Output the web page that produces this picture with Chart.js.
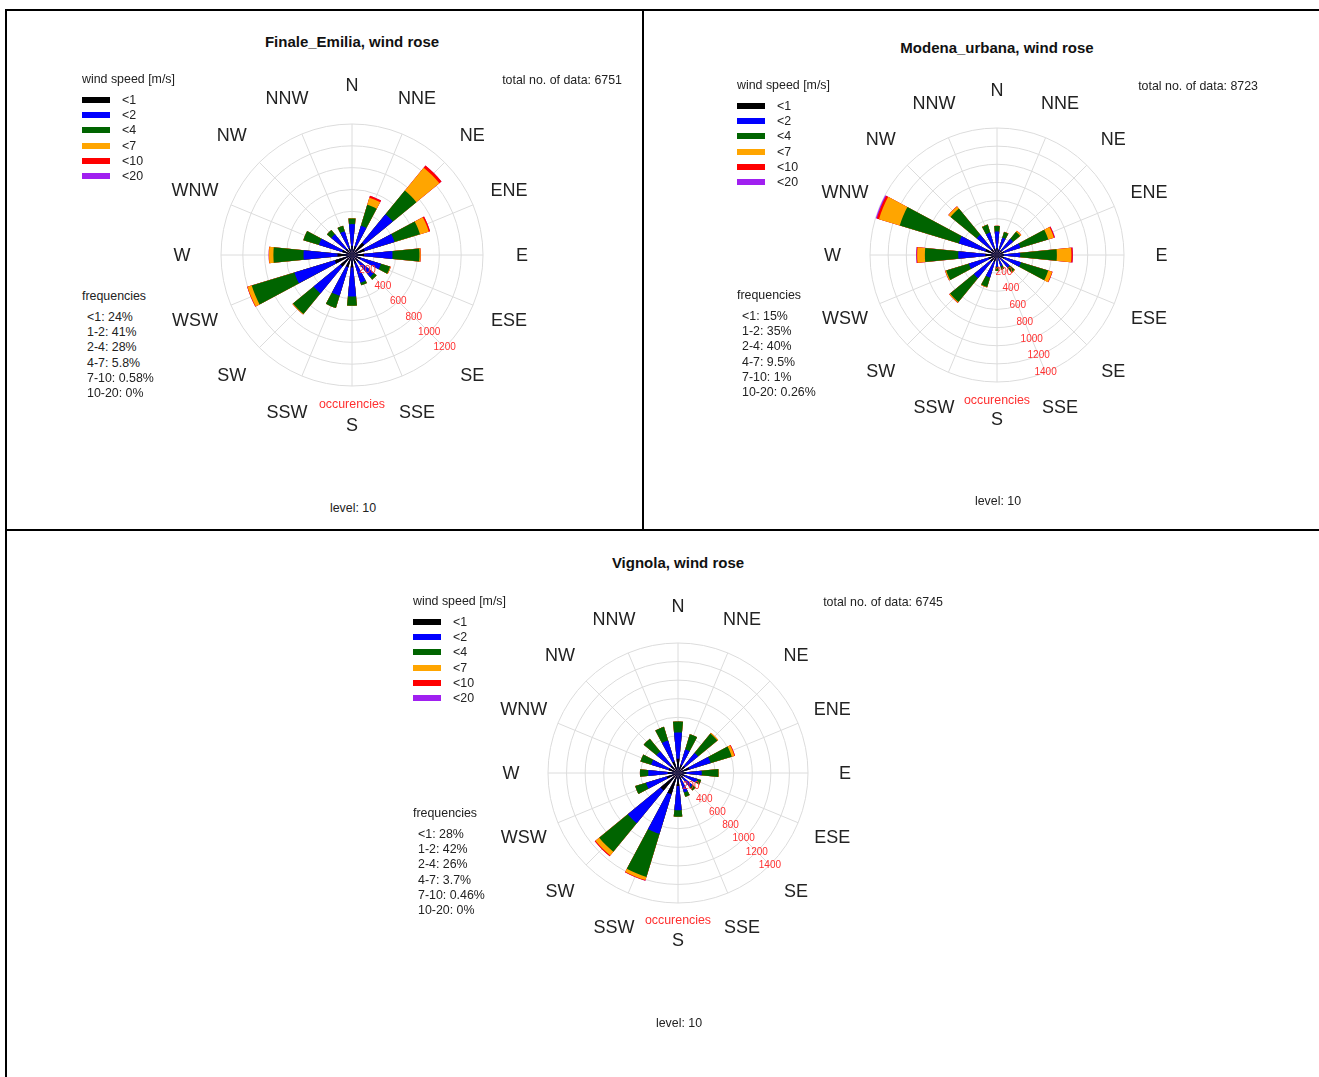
<!DOCTYPE html>
<html>
<head>
<meta charset="utf-8">
<title>Wind roses</title>
<script src="https://cdn.jsdelivr.net/npm/chart.js@4.4.1/dist/chart.umd.min.js"></script>
<style>
  body { margin: 0; background: #fff; font-family: "Liberation Sans", Arial, sans-serif; color: #222; }
  #page { position: relative; width: 1319px; height: 1077px; overflow: hidden; }
  .line { position: absolute; background: #000; }
  .txt { position: absolute; white-space: nowrap; font-size: 12.4px; transform: translate(0, -50%); }
  .mid { transform: translate(-50%, -50%); }
  .right { transform: translate(-100%, -50%); }
  .title { font-weight: bold; font-size: 15px; color: #111; }
  .occ { color: #ff3030; }
  .sw { position: absolute; width: 28px; height: 6px; transform: translate(0, -50%); }
  canvas { position: absolute; }
</style>
</head>
<body>
<div id="page">
  <div class="line" style="left:5px;top:9px;width:1314px;height:2px"></div>
  <div class="line" style="left:5px;top:9px;width:2px;height:1068px"></div>
  <div class="line" style="left:642px;top:9px;width:2px;height:522px"></div>
  <div class="line" style="left:5px;top:529px;width:1314px;height:2px"></div>
  <canvas id="finale"></canvas>
  <canvas id="modena"></canvas>
  <canvas id="vignola"></canvas>
</div>
<script>
const directions = ['N', 'NNE', 'NE', 'ENE', 'E', 'ESE', 'SE', 'SSE', 'S', 'SSW', 'SW', 'WSW', 'W', 'WNW', 'NW', 'NNW'];
const speedClasses = ['<1', '<2', '<4', '<7', '<10', '<20'];
const classColors = ['#000000', '#0000ff', '#006400', '#ffa500', '#ff0000', '#a020f0'];

// occurrences per direction (N clockwise) for each wind speed class
const finaleLt1 = [85, 84, 145, 122, 111, 83, 78, 80, 114, 117, 137, 165, 133, 95, 74, 68];
const finale1to2 = [198, 196, 338, 285, 260, 194, 182, 185, 266, 273, 318, 386, 311, 221, 171, 160];
const finale2to4 = [52, 200, 280, 244, 247, 88, 32, 25, 85, 117, 245, 409, 276, 150, 52, 53];
const finale4to7 = [2, 68, 272, 84, 11, 6, 0, 0, 0, 0, 6, 40, 40, 0, 0, 0];
const finale7to10 = [0, 18, 26, 13, 1, 0, 0, 0, 0, 0, 0, 4, 3, 0, 0, 0];
const finale10to20 = [0, 0, 0, 0, 0, 0, 0, 0, 0, 0, 0, 0, 0, 0, 0, 0];

const modenaLt1 = [77, 60, 69, 81, 77, 83, 54, 39, 39, 78, 99, 97, 128, 132, 87, 77];
const modena1to2 = [181, 140, 161, 189, 178, 193, 126, 91, 91, 182, 231, 227, 299, 308, 203, 181];
const modena2to4 = [62, 65, 100, 320, 405, 314, 70, 40, 45, 110, 340, 261, 368, 680, 372, 92];
const modena4to7 = [2, 4, 15, 65, 160, 45, 8, 0, 0, 5, 10, 11, 85, 240, 30, 2];
const modena7to10 = [0, 0, 2, 11, 15, 5, 0, 0, 0, 0, 3, 2, 7, 25, 3, 0];
const modena10to20 = [0, 0, 0, 3, 3, 0, 0, 0, 0, 0, 0, 0, 5, 12, 0, 0];

const vignolaLt1 = [153, 93, 98, 128, 90, 77, 70, 77, 140, 240, 245, 126, 112, 106, 105, 128];
const vignola1to2 = [283, 173, 182, 239, 166, 143, 130, 143, 260, 445, 455, 234, 208, 196, 195, 238];
const vignola2to4 = [118, 170, 270, 238, 180, 40, 45, 48, 72, 485, 398, 122, 90, 121, 178, 154];
const vignola4to7 = [0, 0, 10, 30, 2, 0, 0, 0, 0, 35, 52, 0, 0, 0, 0, 0];
const vignola7to10 = [0, 0, 0, 7, 0, 0, 0, 0, 0, 7, 10, 0, 0, 0, 0, 0];
const vignola10to20 = [0, 0, 0, 0, 0, 0, 0, 0, 0, 0, 0, 0, 0, 0, 0, 0];

const finaleFreq = ['<1: 24%', '1-2: 41%', '2-4: 28%', '4-7: 5.8%', '7-10: 0.58%', '10-20: 0%'];
const modenaFreq = ['<1: 15%', '1-2: 35%', '2-4: 40%', '4-7: 9.5%', '7-10: 1%', '10-20: 0.26%'];
const vignolaFreq = ['<1: 28%', '1-2: 42%', '2-4: 26%', '4-7: 3.7%', '7-10: 0.46%', '10-20: 0%'];

const page = document.getElementById('page');
const margin = 70;

// compass names centred on a circle outside the grid, red occurrence labels along one direction
const roseText = {
    id: 'roseText',
    afterDraw(chart, args, opts) {
        const r = chart.scales.r;
        const ctx = chart.ctx;
        ctx.save();
        ctx.textAlign = 'center';
        ctx.textBaseline = 'middle';
        ctx.fillStyle = '#222';
        ctx.font = '18px "Liberation Sans", Arial, sans-serif';
        directions.forEach((d, i) => {
            const p = r.getPointPosition(i, r.drawingArea + opts.labelGap);
            ctx.fillText(d, p.x, p.y + 1);
        });
        ctx.fillStyle = '#ff3030';
        ctx.font = '10px "Liberation Sans", Arial, sans-serif';
        r.ticks.forEach(t => {
            if (t.value === 0) return;
            const p = r.getPointPositionForValue(opts.tickIndex, t.value);
            ctx.fillText(String(t.value), p.x, p.y);
        });
        ctx.restore();
    }
};

function cumulate(bands) {
    let run = directions.map(() => 0);
    return bands.map(b => {
        run = run.map((v, i) => v + b[i]);
        return run;
    });
}

// every wedge is half a sector wide, N is split in two halves so the scale can start at north
function sectorData(values) {
    const d = [values[0]];
    for (let i = 1; i < values.length; i++) d.push(0, values[i]);
    d.push(0, values[0]);
    return d;
}

function drawRose(id, bands, max, tickIndex, labelGap, cx, cy, radius) {
    const canvas = document.getElementById(id);
    canvas.width = 2 * (radius + margin);
    canvas.height = 2 * (radius + margin);
    const cum = cumulate(bands);
    const chart = new Chart(canvas, {
        type: 'polarArea',
        data: {
            labels: directions,
            datasets: cum.map((vals, k) => ({
                label: speedClasses[k],
                data: sectorData(vals),
                backgroundColor: classColors[k],
                borderWidth: 0,
                angle: c => (c.index === 0 ? 5.625 : c.index === 32 ? 6.1 : 11.25)
            }))
        },
        options: {
            responsive: false,
            animation: false,
            layout: { padding: margin },
            plugins: {
                legend: { display: false },
                tooltip: { enabled: false },
                roseText: { tickIndex: tickIndex, labelGap: labelGap }
            },
            scales: {
                r: {
                    min: 0,
                    max: max,
                    startAngle: 0,
                    ticks: { display: false, stepSize: 200 },
                    grid: { color: '#dcdcdc' },
                    angleLines: { display: true, color: '#dcdcdc' },
                    pointLabels: { display: false }
                }
            }
        },
        plugins: [roseText]
    });
    const r = chart.scales.r;
    canvas.style.left = (cx - r.xCenter) + 'px';
    canvas.style.top = (cy - r.yCenter) + 'px';
}

function put(text, x, y, cls) {
    const el = document.createElement('div');
    el.className = 'txt ' + (cls || '');
    el.textContent = text;
    el.style.left = x + 'px';
    el.style.top = y + 'px';
    page.appendChild(el);
}

function panelText(p) {
    put(p.title, p.cx, p.titleY, 'mid title');
    put('wind speed [m/s]', p.lx, p.ly, '');
    speedClasses.forEach((s, k) => {
        const sw = document.createElement('div');
        sw.className = 'sw';
        sw.style.left = p.lx + 'px';
        sw.style.top = (p.ly + 21 + 15.2 * k) + 'px';
        sw.style.background = classColors[k];
        page.appendChild(sw);
        put(s, p.lx + 40, p.ly + 21 + 15.2 * k, '');
    });
    put('total no. of data: ' + p.total, p.tx, p.ly + 1, 'right');
    put('frequencies', p.lx, p.fy, '');
    p.freq.forEach((f, k) => put(f, p.lx + 5, p.fy + 21 + 15.2 * k, ''));
    put('occurencies', p.cx, p.occY, 'mid occ');
    put('level: 10', p.cx + 1, p.levelY, 'mid');
}

drawRose('finale', [finaleLt1, finale1to2, finale2to4, finale4to7, finale7to10, finale10to20], 1200, 6, 39, 352, 255, 131);
drawRose('modena', [modenaLt1, modena1to2, modena2to4, modena4to7, modena7to10, modena10to20], 1400, 7, 37.5, 997, 255, 127);
drawRose('vignola', [vignolaLt1, vignola1to2, vignola2to4, vignola4to7, vignola7to10, vignola10to20], 1400, 6, 37, 678, 773, 130);

panelText({ title: 'Finale_Emilia, wind rose', cx: 352, titleY: 41, lx: 82, ly: 79, tx: 622, total: 6751,
    fy: 296, freq: finaleFreq, occY: 404, levelY: 508 });
panelText({ title: 'Modena_urbana, wind rose', cx: 997, titleY: 47, lx: 737, ly: 85, tx: 1258, total: 8723,
    fy: 295, freq: modenaFreq, occY: 400, levelY: 501 });
panelText({ title: 'Vignola, wind rose', cx: 678, titleY: 562, lx: 413, ly: 601, tx: 943, total: 6745,
    fy: 813, freq: vignolaFreq, occY: 920, levelY: 1023 });
</script>
</body>
</html>
